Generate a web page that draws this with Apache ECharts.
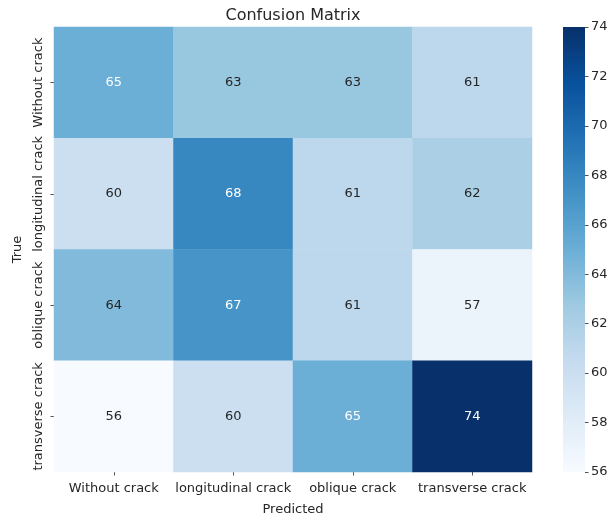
<!DOCTYPE html>
<html>
<head>
<meta charset="utf-8">
<script src="https://cdn.jsdelivr.net/npm/echarts@6/dist/echarts.min.js"></script>
<style>
  html, body { margin: 0; padding: 0; background: #fff; }
  #chart { width: 609px; height: 517px; }
</style>
</head>
<body>
<div id="chart"></div>
<script>
// Class names, shared by both axes
const classes = ['Without crack', 'longitudinal crack', 'oblique crack', 'transverse crack'];

// Counts per true class (rows), one entry per predicted class
const rowWithout = [65, 63, 63, 61];
const rowLongitudinal = [60, 68, 61, 62];
const rowOblique = [64, 67, 61, 57];
const rowTransverse = [56, 60, 65, 74];

// Colour bar range and tick labels
const colorMin = 56;
const colorMax = 74;
const colorTicks = [56, 58, 60, 62, 64, 66, 68, 70, 72, 74];

const rows = [rowWithout, rowLongitudinal, rowOblique, rowTransverse];

// Matplotlib "Blues" colour map stops
const blues = ['#f7fbff', '#deebf7', '#c6dbef', '#9ecae1', '#6baed6',
               '#4292c6', '#2171b5', '#08519c', '#08306b'];

const FONT = 'DejaVu Sans';
const TEXT = '#262626';

const cells = [];
rows.forEach((row, r) => {
  row.forEach((v, c) => {
    cells.push({
      value: [c, r, v],
      label: { color: v >= 65 ? '#ffffff' : TEXT }
    });
  });
});

// Vertical gradient for the colour bar (top = max)
const barGradient = new echarts.graphic.LinearGradient(0, 1, 0, 0,
  blues.map((c, i) => ({ offset: i / (blues.length - 1), color: c })));

const chart = echarts.init(document.getElementById('chart'), null, { renderer: 'canvas' });

chart.setOption({
  backgroundColor: '#ffffff',
  animation: false,
  title: {
    text: 'Confusion Matrix',
    left: 288,
    top: 3,
    textAlign: 'center',
    textStyle: { fontFamily: FONT, fontSize: 16, fontWeight: 'normal', color: TEXT }
  },
  grid: [
    { left: 54, top: 27, width: 478, height: 445, outerBoundsMode: 'none', containLabel: false },
    { left: 563, top: 27, width: 22, height: 445, outerBoundsMode: 'none', containLabel: false }
  ],
  xAxis: [
    {
      gridIndex: 0,
      type: 'category',
      data: classes,
      name: 'Predicted',
      nameLocation: 'middle',
      nameGap: 31,
      nameTextStyle: { fontFamily: FONT, fontSize: 13, color: TEXT },
      axisLine: { show: false },
      axisTick: { show: true, alignWithLabel: true, length: 3.5, lineStyle: { color: TEXT, width: 0.8 } },
      axisLabel: { fontFamily: FONT, fontSize: 13, color: TEXT, margin: 10, interval: 0 },
      splitLine: { show: false }
    },
    {
      gridIndex: 1,
      type: 'category',
      data: ['scale'],
      show: false
    }
  ],
  yAxis: [
    {
      gridIndex: 0,
      type: 'category',
      data: classes,
      inverse: true,
      name: 'True',
      nameLocation: 'middle',
      nameGap: 30,
      nameRotate: 90,
      nameTextStyle: { fontFamily: FONT, fontSize: 13, color: TEXT },
      axisLine: { show: false },
      axisTick: { show: true, alignWithLabel: true, length: 3.5, lineStyle: { color: TEXT, width: 0.8 } },
      axisLabel: { fontFamily: FONT, fontSize: 13, color: TEXT, rotate: 90, margin: 9, interval: 0 },
      splitLine: { show: false }
    },
    {
      gridIndex: 1,
      type: 'value',
      position: 'right',
      min: colorMin,
      max: colorMax,
      interval: 2,
      axisLine: { show: false },
      axisTick: { show: true, length: 3.5, lineStyle: { color: TEXT, width: 0.8 } },
      axisLabel: {
        fontFamily: FONT, fontSize: 13, color: TEXT, margin: 6,
        showMinLabel: true, showMaxLabel: true,
        formatter: v => (colorTicks.indexOf(v) >= 0 ? String(v) : '')
      },
      splitLine: { show: false }
    }
  ],
  visualMap: {
    type: 'continuous',
    seriesIndex: 0,
    min: colorMin,
    max: colorMax,
    show: false,
    inRange: { color: blues }
  },
  series: [
    {
      type: 'heatmap',
      xAxisIndex: 0,
      yAxisIndex: 0,
      data: cells,
      label: {
        show: true,
        fontFamily: FONT,
        fontSize: 13,
        formatter: p => String(p.value[2])
      },
      itemStyle: { borderWidth: 0 },
      emphasis: { disabled: true }
    },
    {
      // colour bar: one full-height bar filled with the colour map
      type: 'bar',
      xAxisIndex: 1,
      yAxisIndex: 1,
      data: [colorMax],
      barWidth: '100%',
      silent: true,
      itemStyle: { color: barGradient },
      emphasis: { disabled: true }
    }
  ]
});
</script>
</body>
</html>
